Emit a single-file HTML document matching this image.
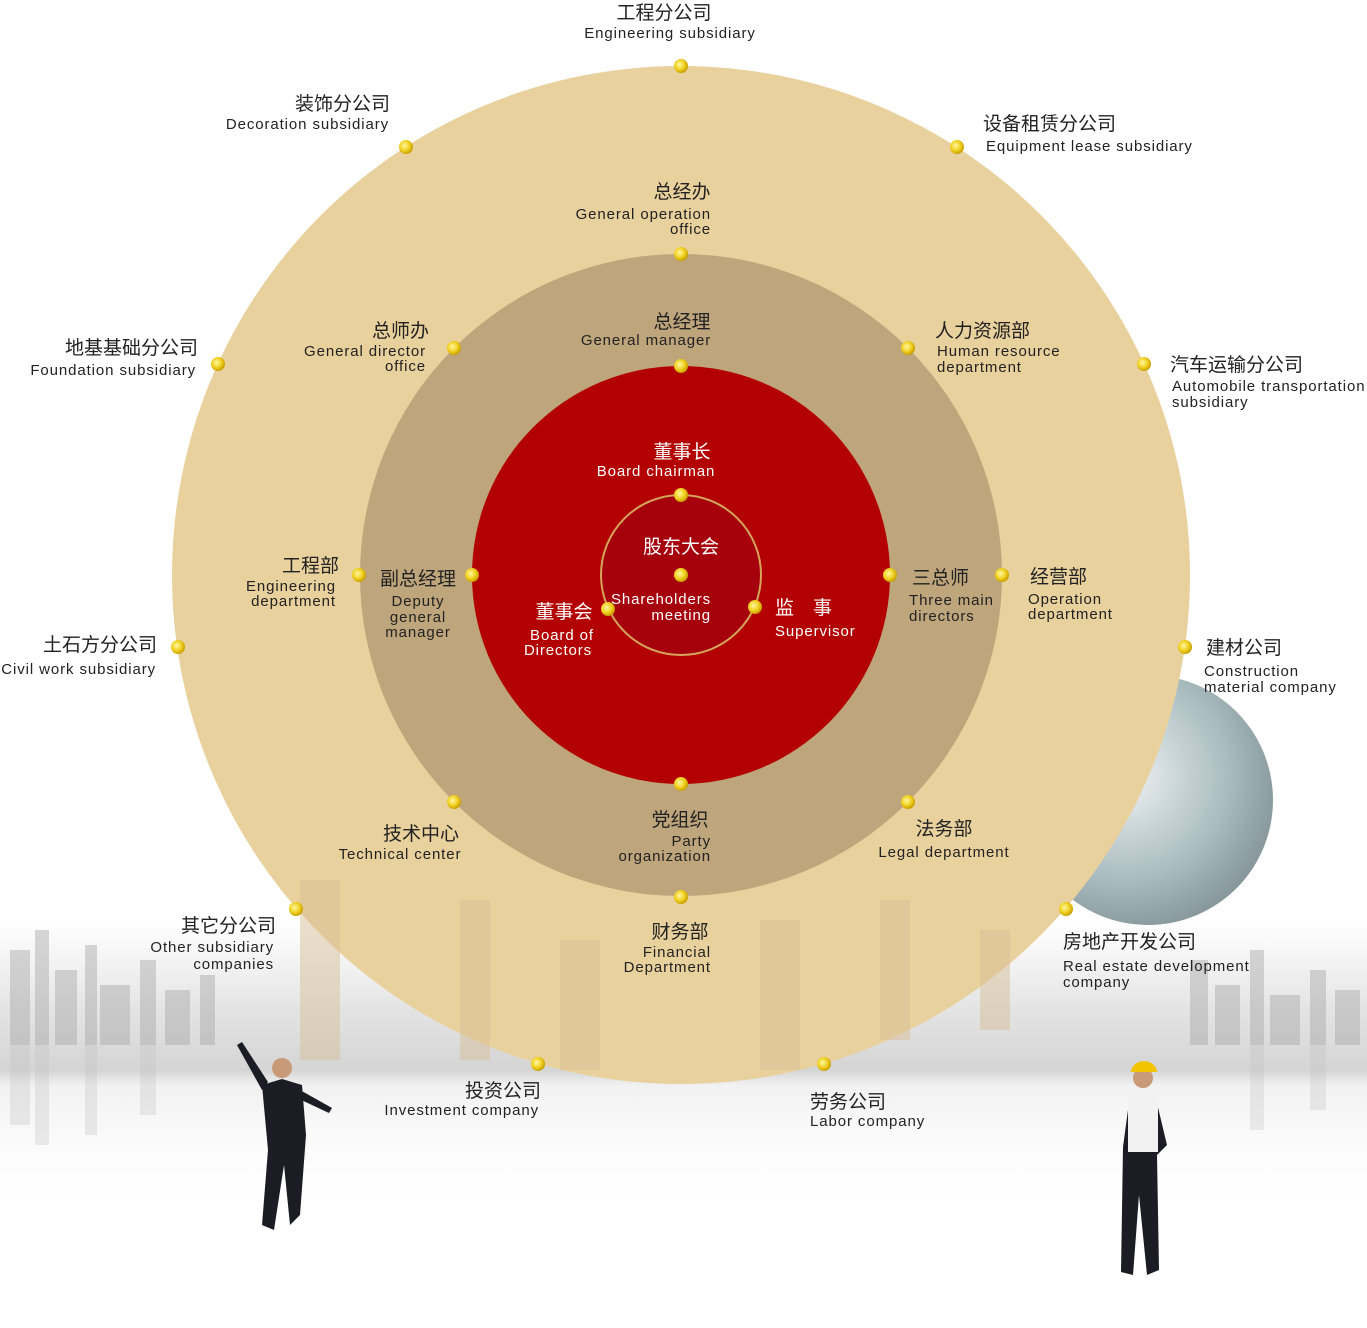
<!DOCTYPE html>
<html><head><meta charset="utf-8"><style>
html,body{margin:0;padding:0;background:#fff;}
svg{display:block;}
text{font-family:"Liberation Sans","Noto Sans CJK SC",sans-serif;}
.cn{font-size:19px;fill:#222;}
.en{font-size:15px;fill:#222;letter-spacing:0.9px;}
.w{fill:#fff;}
</style></head><body>
<svg width="1367" height="1328" viewBox="0 0 1367 1328" xmlns="http://www.w3.org/2000/svg">
<defs>
<linearGradient id="sky" x1="0" y1="0" x2="0" y2="1">
<stop offset="0" stop-color="#d0d0d0" stop-opacity="0"/>
<stop offset="0.3" stop-color="#c8c8c8" stop-opacity="0.5"/>
<stop offset="0.5" stop-color="#b8b8b8" stop-opacity="0.6"/>
<stop offset="0.55" stop-color="#e8e8e8" stop-opacity="0.6"/>
<stop offset="1" stop-color="#ffffff" stop-opacity="0"/>
</linearGradient>
<radialGradient id="globe" cx="0.4" cy="0.4" r="0.7">
<stop offset="0" stop-color="#f0f3f4"/>
<stop offset="0.6" stop-color="#a9bcc0"/>
<stop offset="1" stop-color="#7d8c90"/>
</radialGradient>
<radialGradient id="dot" cx="0.4" cy="0.4" r="0.6">
<stop offset="0" stop-color="#fff7a0"/>
<stop offset="0.6" stop-color="#f0d020"/>
<stop offset="1" stop-color="#c9a000"/>
</radialGradient>
</defs>
<g fill="url(#sky)">
<rect x="0" y="920" width="1367" height="300"/>
</g>
<g fill="#a8a8a8" opacity="0.45">
<rect x="10" y="950" width="20" height="95"/><rect x="35" y="930" width="14" height="115"/><rect x="55" y="970" width="22" height="75"/>
<rect x="85" y="945" width="12" height="100"/><rect x="100" y="985" width="30" height="60"/><rect x="140" y="960" width="16" height="85"/>
<rect x="165" y="990" width="25" height="55"/><rect x="200" y="975" width="15" height="70"/><rect x="1190" y="960" width="18" height="85"/>
<rect x="1215" y="985" width="25" height="60"/><rect x="1250" y="950" width="14" height="95"/><rect x="1270" y="995" width="30" height="50"/>
<rect x="1310" y="970" width="16" height="75"/><rect x="1335" y="990" width="25" height="55"/>
</g>
<g fill="#c0c0c0" opacity="0.3">
<rect x="10" y="1045" width="20" height="80"/><rect x="35" y="1045" width="14" height="100"/><rect x="85" y="1045" width="12" height="90"/>
<rect x="140" y="1045" width="16" height="70"/><rect x="1250" y="1045" width="14" height="85"/><rect x="1310" y="1045" width="16" height="65"/>
</g>
<circle cx="1148" cy="800" r="125" fill="url(#globe)"/>
<circle cx="681" cy="575" r="509" fill="#e9d19d"/>
<g fill="#d8c09a" opacity="0.5">
<rect x="300" y="880" width="40" height="180"/><rect x="460" y="900" width="30" height="160"/><rect x="560" y="940" width="40" height="130"/>
<rect x="760" y="920" width="40" height="150"/><rect x="880" y="900" width="30" height="140"/><rect x="980" y="930" width="30" height="100"/>
</g>
<circle cx="681" cy="575" r="321" fill="#bea57b"/>
<circle cx="681" cy="575" r="209" fill="#b30000"/>
<circle cx="681" cy="575" r="80" fill="#a6000c" stroke="#d6a55a" stroke-width="2"/>
<g fill="#1c1c24">
<path d="M262 1085 l20 -6 l20 6 l4 50 l-6 80 l-10 10 l-6 -60 l-10 65 l-12 -5 l6 -75 z"/>
<circle cx="282" cy="1068" r="10" fill="#c99a78"/>
<path d="M262 1090 l-25 -45 l5 -3 l26 40 z"/>
<path d="M300 1090 l32 18 l-3 5 l-32 -15 z"/>
<path d="M1130 1095 l25 0 l12 50 l-10 10 l2 115 l-12 5 l-8 -80 l-6 80 l-12 -3 l2 -125 z"/>
<rect x="1128" y="1092" width="30" height="60" fill="#f2f2f2"/>
<circle cx="1143" cy="1078" r="10" fill="#c99a78"/>
<path d="M1131 1072 a12 10 0 0 1 26 0 z" fill="#f2c400"/>
</g>
<g fill="url(#dot)">
<circle cx="681" cy="66" r="7"/><circle cx="406" cy="147" r="7"/><circle cx="957" cy="147" r="7"/>
<circle cx="681" cy="254" r="7"/><circle cx="681" cy="366" r="7"/><circle cx="454" cy="348" r="7"/>
<circle cx="908" cy="348" r="7"/><circle cx="218" cy="364" r="7"/><circle cx="1144" cy="364" r="7"/>
<circle cx="681" cy="495" r="7"/><circle cx="681" cy="575" r="7"/><circle cx="608" cy="609" r="7"/>
<circle cx="755" cy="607" r="7"/><circle cx="359" cy="575" r="7"/><circle cx="472" cy="575" r="7"/>
<circle cx="890" cy="575" r="7"/><circle cx="1002" cy="575" r="7"/><circle cx="178" cy="647" r="7"/>
<circle cx="1185" cy="647" r="7"/><circle cx="681" cy="784" r="7"/><circle cx="454" cy="802" r="7"/>
<circle cx="908" cy="802" r="7"/><circle cx="681" cy="897" r="7"/><circle cx="296" cy="909" r="7"/>
<circle cx="1066" cy="909" r="7"/><circle cx="538" cy="1064" r="7"/><circle cx="824" cy="1064" r="7"/>
</g>
<g>
<text class="cn" x="664" y="19" text-anchor="middle">工程分公司</text>
<text class="en" x="670" y="38" text-anchor="middle">Engineering subsidiary</text>
<text class="cn" x="390" y="110" text-anchor="end">装饰分公司</text>
<text class="en" x="389" y="129" text-anchor="end">Decoration subsidiary</text>
<text class="cn" x="983" y="130">设备租赁分公司</text>
<text class="en" x="986" y="151">Equipment lease subsidiary</text>
<text class="cn" x="682" y="198" text-anchor="middle">总经办</text>
<text class="en" x="711" y="219" text-anchor="end">General operation</text>
<text class="en" x="711" y="234" text-anchor="end">office</text>
<text class="cn" x="682" y="328" text-anchor="middle">总经理</text>
<text class="en" x="646" y="345" text-anchor="middle">General manager</text>
<text class="cn" x="429" y="337" text-anchor="end">总师办</text>
<text class="en" x="426" y="356" text-anchor="end">General director</text>
<text class="en" x="426" y="371" text-anchor="end">office</text>
<text class="cn" x="935" y="337">人力资源部</text>
<text class="en" x="937" y="356">Human resource</text>
<text class="en" x="937" y="372">department</text>
<text class="cn" x="198" y="354" text-anchor="end">地基基础分公司</text>
<text class="en" x="196" y="375" text-anchor="end">Foundation subsidiary</text>
<text class="cn" x="1170" y="371">汽车运输分公司</text>
<text class="en" x="1172" y="391">Automobile transportation</text>
<text class="en" x="1172" y="407">subsidiary</text>
<text class="cn w" x="682" y="458" text-anchor="middle">董事长</text>
<text class="en w" x="656" y="476" text-anchor="middle">Board chairman</text>
<text class="cn w" x="681" y="553" text-anchor="middle">股东大会</text>
<text class="en w" x="711" y="604" text-anchor="end">Shareholders</text>
<text class="en w" x="711" y="620" text-anchor="end">meeting</text>
<text class="cn w" x="564" y="618" text-anchor="middle">董事会</text>
<text class="en w" x="562" y="640" text-anchor="middle">Board of</text>
<text class="en w" x="558" y="655" text-anchor="middle">Directors</text>
<text class="cn w" x="775" y="614">监　事</text>
<text class="en w" x="775" y="636">Supervisor</text>
<text class="cn" x="339" y="572" text-anchor="end">工程部</text>
<text class="en" x="336" y="591" text-anchor="end">Engineering</text>
<text class="en" x="336" y="606" text-anchor="end">department</text>
<text class="cn" x="418" y="585" text-anchor="middle">副总经理</text>
<text class="en" x="418" y="606" text-anchor="middle">Deputy</text>
<text class="en" x="418" y="622" text-anchor="middle">general</text>
<text class="en" x="418" y="637" text-anchor="middle">manager</text>
<text class="cn" x="912" y="584">三总师</text>
<text class="en" x="909" y="605">Three main</text>
<text class="en" x="909" y="621">directors</text>
<text class="cn" x="1030" y="583">经营部</text>
<text class="en" x="1028" y="604">Operation</text>
<text class="en" x="1028" y="619">department</text>
<text class="cn" x="157" y="651" text-anchor="end">土石方分公司</text>
<text class="en" x="156" y="674" text-anchor="end">Civil work subsidiary</text>
<text class="cn" x="1206" y="654">建材公司</text>
<text class="en" x="1204" y="676">Construction</text>
<text class="en" x="1204" y="692">material company</text>
<text class="cn" x="680" y="826" text-anchor="middle">党组织</text>
<text class="en" x="711" y="846" text-anchor="end">Party</text>
<text class="en" x="711" y="861" text-anchor="end">organization</text>
<text class="cn" x="421" y="840" text-anchor="middle">技术中心</text>
<text class="en" x="400" y="859" text-anchor="middle">Technical center</text>
<text class="cn" x="944" y="835" text-anchor="middle">法务部</text>
<text class="en" x="944" y="857" text-anchor="middle">Legal department</text>
<text class="cn" x="680" y="938" text-anchor="middle">财务部</text>
<text class="en" x="711" y="957" text-anchor="end">Financial</text>
<text class="en" x="711" y="972" text-anchor="end">Department</text>
<text class="cn" x="276" y="932" text-anchor="end">其它分公司</text>
<text class="en" x="274" y="952" text-anchor="end">Other subsidiary</text>
<text class="en" x="274" y="969" text-anchor="end">companies</text>
<text class="cn" x="1063" y="948">房地产开发公司</text>
<text class="en" x="1063" y="971">Real estate development</text>
<text class="en" x="1063" y="987">company</text>
<text class="cn" x="541" y="1097" text-anchor="end">投资公司</text>
<text class="en" x="539" y="1115" text-anchor="end">Investment company</text>
<text class="cn" x="810" y="1108">劳务公司</text>
<text class="en" x="810" y="1126">Labor company</text>
</g>
</svg>
</body></html>
